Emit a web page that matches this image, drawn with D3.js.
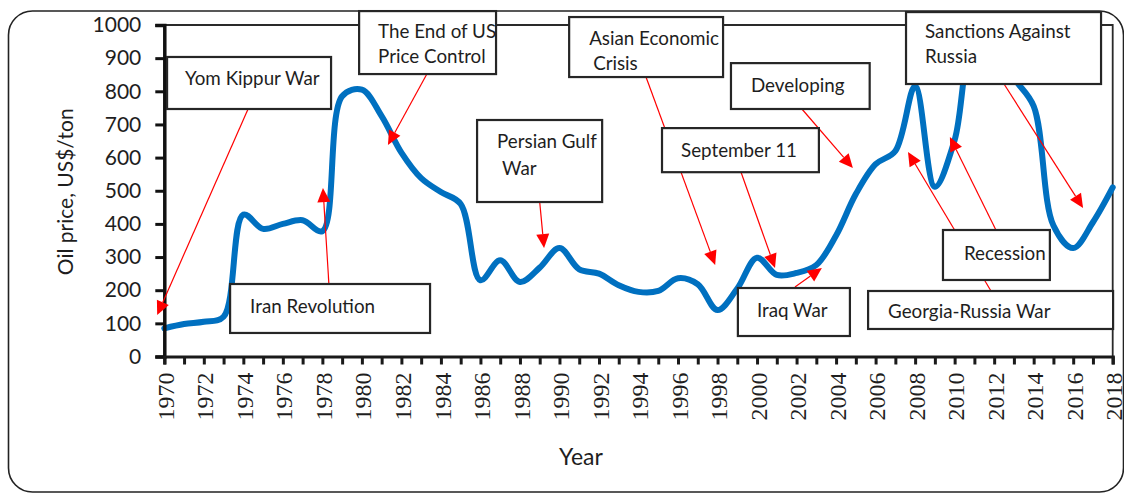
<!DOCTYPE html>
<html>
<head>
<meta charset="utf-8">
<script src="https://cdn.jsdelivr.net/npm/d3@7"></script>
<style>
  html, body { margin: 0; padding: 0; background: #fff; }
  svg { display: block; }
  text { font-family: Lato, "Open Sans", sans-serif; fill: #1e1e1e; }
</style>
</head>
<body>
<svg id="chart" width="1124" height="495"></svg>
<script>
// Annual oil price, US$ per ton
const years = [1970, 1971, 1972, 1973, 1974, 1975, 1976, 1977, 1978, 1979,
               1980, 1981, 1982, 1983, 1984, 1985, 1986, 1987, 1988, 1989,
               1990, 1991, 1992, 1993, 1994, 1995, 1996, 1997, 1998, 1999,
               2000, 2001, 2002, 2003, 2004, 2005, 2006, 2007, 2008, 2009,
               2010, 2011, 2012, 2013, 2014, 2015, 2016, 2017, 2018];
const prices = [85, 98, 105, 120, 428, 385, 400, 411, 378, 785,
                805, 725, 615, 538, 496, 460, 230, 290, 225, 268,
                327, 263, 250, 215, 195, 198, 236, 218, 140, 205,
                298, 246, 252, 276, 365, 490, 580, 620, 815, 512,
                653, 950, 950, 840, 755, 395, 327, 405, 510];
const xTickLabels = ["1970", "1972", "1974", "1976", "1978", "1980", "1982", "1984",
                     "1986", "1988", "1990", "1992", "1994", "1996", "1998", "2000",
                     "2002", "2004", "2006", "2008", "2010", "2012", "2014", "2016", "2018"];
const yTickValues = [0, 100, 200, 300, 400, 500, 600, 700, 800, 900, 1000];

// Event call-outs, placed in data units (year, price)
const events = [
  { lines: ["Yom Kippur War"], box: [1970.14, 903.5, 1978.44, 746.6], pad: [[18, 28]],
    arrows: [[1974.24, 746.6, 1969.64, 125]] },
  { lines: ["Iran Revolution"], box: [1973.33, 218.7, 1983.45, 71], pad: [[20, 29]],
    arrows: [[1978.33, 218.7, 1978.03, 508]] },
  { lines: ["The End of US", "Price Control"], box: [1979.86, 1042, 1986.79, 852], pad: [[19, 27], [19, 52]],
    arrows: [[1983.29, 852, 1981.32, 638]] },
  { lines: ["Persian Gulf", "War"], box: [1985.83, 713.4, 1992.16, 466], pad: [[20, 28], [25, 55]],
    arrows: [[1989.0, 466, 1989.22, 327]] },
  { lines: ["Asian Economic", "Crisis"], box: [1990.49, 1024, 1998.28, 843], pad: [[20, 28], [24, 53]],
    arrows: [[1994.38, 843, 1997.88, 276]] },
  { lines: ["September 11"], box: [1995.19, 689, 2003.13, 556], pad: [[19, 29]],
    arrows: [[1999.19, 556, 2000.91, 267]] },
  { lines: ["Developing"], box: [1998.68, 885, 2005.7, 746.6], pad: [[20, 29]],
    arrows: [[2002.27, 746.6, 2004.85, 568.6]] },
  { lines: ["Sanctions Against", "Russia"], box: [2007.54, 1039, 2017.41, 822], pad: [[19, 26], [19, 51]],
    arrows: [[2012.5, 822, 2016.5, 448]] },
  { lines: ["Georgia-Russia War"], box: [2005.62, 197.6, 2018.02, 83], pad: [[20, 27]],
    arrows: [[2011.84, 197.6, 2007.64, 617]] },
  { lines: ["Recession"], box: [2009.41, 381.6, 2014.82, 230.8], pad: [[21, 30]],
    arrows: [[2012.09, 381.6, 2009.76, 662]] },
  { lines: ["Iraq War"], box: [1999.03, 206.6, 2004.7, 61.8], pad: [[19, 29]],
    arrows: [[2001.92, 209.7, 2003.28, 267]] }
];

const W = 1124, H = 495;
const margin = { top: 25, right: 11.3, bottom: 138.5, left: 164.3 };
const svg = d3.select("#chart");

const x = d3.scaleLinear().domain([1970, 2018]).range([margin.left, W - margin.right]);
const y = d3.scaleLinear().domain([0, 1000]).range([H - margin.bottom, margin.top]);

// Outer rounded frame
svg.append("rect")
  .attr("x", 8.5).attr("y", 11).attr("width", 1115).attr("height", 481)
  .attr("rx", 24).attr("ry", 24)
  .attr("fill", "none").attr("stroke", "#222").attr("stroke-width", 1.6);

// Plot area frame (top and right edges)
svg.append("path")
  .attr("d", `M${x(1970)},${y(1000)}H${x(2018)}V${y(0)}`)
  .attr("fill", "none").attr("stroke", "#2a2a2a").attr("stroke-width", 1.8);

// Price line
const line = d3.line()
  .x((d, i) => x(years[i]))
  .y(d => y(d))
  .curve(d3.curveCatmullRom.alpha(0.5));

svg.append("path")
  .datum(prices)
  .attr("d", line)
  .attr("fill", "none")
  .attr("stroke", "#0070C0")
  .attr("stroke-width", 6)
  .attr("stroke-linejoin", "round")
  .attr("stroke-linecap", "round");

// Axes
const yAxis = d3.axisLeft(y).tickValues(yTickValues).tickSize(9).tickPadding(14).tickFormat(d3.format("d"));
const gy = svg.append("g").attr("transform", `translate(${margin.left},0)`).call(yAxis);
gy.select(".domain").attr("stroke", "#111").attr("stroke-width", 3.5);
gy.selectAll(".tick line").attr("stroke", "#111").attr("stroke-width", 3);
gy.selectAll(".tick text").style("font-family", "Lato, sans-serif").style("font-size", "21px").attr("fill", "#1e1e1e");

const xAxis = d3.axisBottom(x).tickValues(years).tickSize(8).tickFormat(() => "");
const gx = svg.append("g").attr("transform", `translate(0,${y(0)})`).call(xAxis);
gx.select(".domain").attr("stroke", "#1a1a1a").attr("stroke-width", 3.2);
gx.selectAll(".tick line").attr("stroke", "#1a1a1a").attr("stroke-width", 3);

// Year labels, rotated
svg.append("g").selectAll("text")
  .data(xTickLabels)
  .join("text")
  .attr("transform", d => `translate(${x(+d)},${y(0) + 16}) rotate(-90)`)
  .attr("dy", "0.4em")
  .attr("text-anchor", "end")
  .style("font-family", "'Liberation Serif', 'Times New Roman', serif")
  .style("font-size", "24px")
  .text(d => d);

// Axis titles
svg.append("text")
  .attr("transform", `translate(73,${(y(0) + y(1000)) / 2 + 1}) rotate(-90)`)
  .attr("text-anchor", "middle")
  .style("font-size", "21px")
  .text("Oil price, US$/ton");

svg.append("text")
  .attr("x", 581)
  .attr("y", 465)
  .attr("text-anchor", "middle")
  .style("font-size", "23px")
  .text("Year");

// Arrows from call-outs
const arrowLayer = svg.append("g");
const boxLayer = svg.append("g");

events.forEach(ev => {
  ev.arrows.forEach(([x0, y0, x1, y1]) => {
    const sx = x(x0), sy = y(y0), tx = x(x1), ty = y(y1);
    const len = Math.hypot(tx - sx, ty - sy);
    const ux = (tx - sx) / len, uy = (ty - sy) / len;
    const headL = 14, headW = 6.5;
    const bx = tx - ux * headL, by = ty - uy * headL;
    arrowLayer.append("line")
      .attr("x1", sx).attr("y1", sy).attr("x2", bx).attr("y2", by)
      .attr("stroke", "#ff0000").attr("stroke-width", 1.2);
    arrowLayer.append("path")
      .attr("d", `M${tx},${ty}L${bx - uy * headW},${by + ux * headW}L${bx + uy * headW},${by - ux * headW}Z`)
      .attr("fill", "#ff0000");
  });
});

events.forEach(ev => {
  const [bx0, by0, bx1, by1] = ev.box;
  const left = x(bx0), top = y(by0), right = x(bx1), bottom = y(by1);
  const g = boxLayer.append("g");
  g.append("rect")
    .attr("x", left).attr("y", top)
    .attr("width", right - left).attr("height", bottom - top)
    .attr("fill", "#fff").attr("stroke", "#262626").attr("stroke-width", 2.2);
  ev.lines.forEach((t, i) => {
    g.append("text")
      .attr("x", left + ev.pad[i][0])
      .attr("y", top + ev.pad[i][1])
      .style("font-size", "18.8px")
      .text(t);
  });
});
</script>
</body>
</html>
